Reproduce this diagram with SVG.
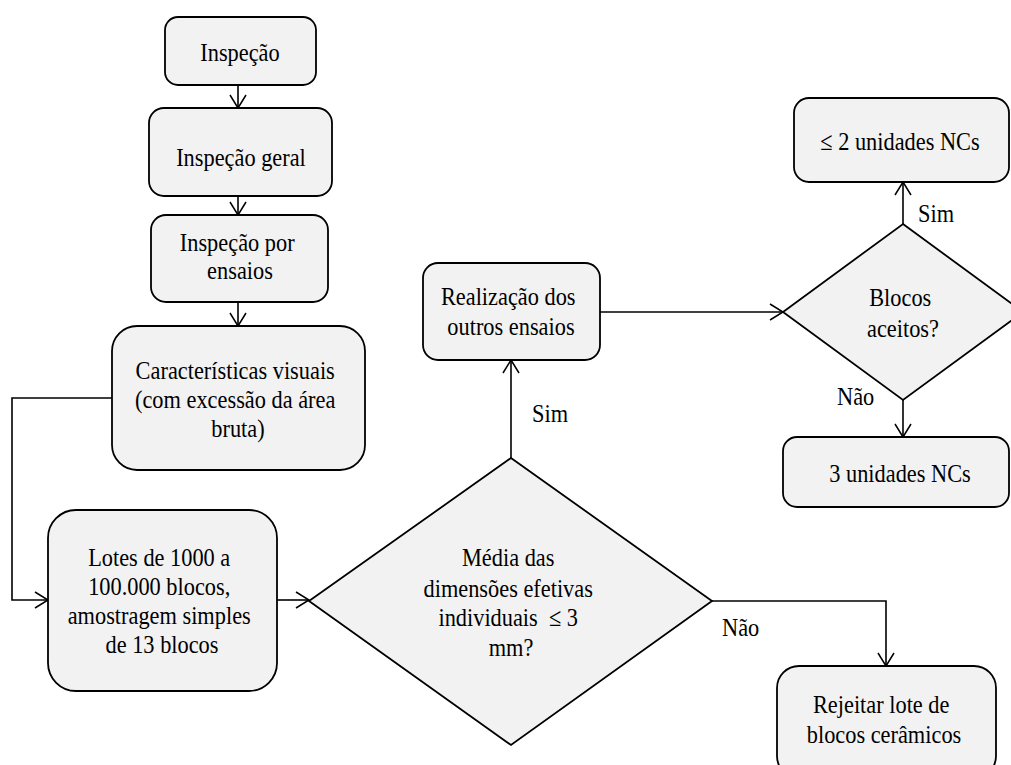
<svg xmlns="http://www.w3.org/2000/svg" width="1011" height="765" viewBox="0 0 1011 765">
  <defs>
    <marker id="arrow" markerUnits="userSpaceOnUse" markerWidth="20" markerHeight="20" viewBox="-16 -10 20 20" refX="0" refY="0" orient="auto">
      <path d="M -13 -8 L 0 0 L -13 8" fill="none" stroke="#000" stroke-width="1.5"/>
    </marker>
    <style>
      .shape { fill: #f2f2f2; stroke: #000; stroke-width: 1.8; }
      .link { fill: none; stroke: #000; stroke-width: 1.6; }
      .txt { font-family: "Liberation Serif", "Times New Roman", serif; font-size: 26px; fill: #000; }
      .c { text-anchor: middle; }
    </style>
  </defs>
  <rect width="1011" height="765" fill="#fff"/>

  <!-- connectors and their labels -->
  <g id="connectors">
    <line class="link" x1="238" y1="85" x2="238" y2="108" marker-end="url(#arrow)"/>
    <line class="link" x1="238" y1="196" x2="238" y2="215" marker-end="url(#arrow)"/>
    <line class="link" x1="238" y1="302" x2="238" y2="326" marker-end="url(#arrow)"/>
    <polyline class="link" points="112,398 12,398 12,600 48,600" marker-end="url(#arrow)"/>
    <line class="link" x1="277" y1="600" x2="309" y2="600" marker-end="url(#arrow)"/>
    <line class="link" x1="511" y1="458" x2="511" y2="360" marker-end="url(#arrow)"/>
    <line class="link" x1="600" y1="312" x2="783" y2="312" marker-end="url(#arrow)"/>
    <line class="link" x1="903" y1="224" x2="903" y2="182" marker-end="url(#arrow)"/>
    <line class="link" x1="903" y1="400" x2="903" y2="437" marker-end="url(#arrow)"/>
    <polyline class="link" points="712,601 886,601 886,666" marker-end="url(#arrow)"/>
    <text class="txt" transform="translate(532 422) scale(0.86 1)">Sim</text>
    <text class="txt" transform="translate(918 222) scale(0.86 1)">Sim</text>
    <text class="txt" transform="translate(837 405) scale(0.86 1)">Não</text>
    <text class="txt" transform="translate(722 636) scale(0.86 1)">Não</text>
  </g>

  <g id="inspecao">
    <rect class="shape" x="165" y="17" width="151" height="68" rx="13"/>
    <text class="txt c" transform="translate(240 61) scale(0.86 1)">Inspeção</text>
  </g>

  <g id="inspecao-geral">
    <rect class="shape" x="149" y="108" width="183" height="88" rx="15"/>
    <text class="txt c" transform="translate(241 166) scale(0.86 1)">Inspeção geral</text>
  </g>

  <g id="inspecao-ensaios">
    <rect class="shape" x="151" y="215" width="177" height="87" rx="15"/>
    <text class="txt c" transform="translate(240 0) scale(0.86 1)">
      <tspan x="0" y="251">Inspeção por</tspan>
      <tspan x="0" y="279">ensaios</tspan>
    </text>
  </g>

  <g id="caracteristicas">
    <rect class="shape" x="112" y="326" width="253" height="144" rx="25"/>
    <text class="txt c" transform="translate(238 0) scale(0.86 1)">
      <tspan x="0" y="379">Características visuais</tspan>
      <tspan x="0" y="408">(com excessão da área</tspan>
      <tspan x="0" y="437">bruta)</tspan>
    </text>
  </g>

  <g id="lotes">
    <rect class="shape" x="48" y="510" width="229" height="181" rx="28"/>
    <text class="txt c" transform="translate(162 0) scale(0.86 1)">
      <tspan x="0" y="566">Lotes de 1000 a</tspan>
      <tspan x="0" y="595">100.000 blocos,</tspan>
      <tspan x="0" y="624">amostragem simples</tspan>
      <tspan x="0" y="653">de 13 blocos</tspan>
    </text>
  </g>

  <g id="media-dimensoes">
    <polygon class="shape" points="511,458 712,601 511,745 309,601"/>
    <text class="txt c" transform="translate(511 0) scale(0.86 1)">
      <tspan x="0" y="566">Média das</tspan>
      <tspan x="0" y="597">dimensões efetivas</tspan>
      <tspan x="0" y="626">individuais &#160;≤ 3</tspan>
      <tspan x="0" y="656">mm?</tspan>
    </text>
  </g>

  <g id="outros-ensaios">
    <rect class="shape" x="423" y="263" width="177" height="97" rx="15"/>
    <text class="txt c" transform="translate(511 0) scale(0.86 1)">
      <tspan x="0" y="305">Realização dos</tspan>
      <tspan x="0" y="335">outros ensaios</tspan>
    </text>
  </g>

  <g id="blocos-aceitos">
    <polygon class="shape" points="903,224 1023,312 903,400 783,312"/>
    <text class="txt c" transform="translate(903 0) scale(0.86 1)">
      <tspan x="0" y="306">Blocos</tspan>
      <tspan x="0" y="337">aceitos?</tspan>
    </text>
  </g>

  <g id="ate-2-ncs">
    <rect class="shape" x="794" y="98" width="215" height="84" rx="15"/>
    <text class="txt c" transform="translate(900 150) scale(0.86 1)">≤ 2 unidades NCs</text>
  </g>

  <g id="tres-ncs">
    <rect class="shape" x="783" y="437" width="226" height="70" rx="14"/>
    <text class="txt c" transform="translate(900 482) scale(0.86 1)">3 unidades NCs</text>
  </g>

  <g id="rejeitar">
    <rect class="shape" x="777" y="666" width="219" height="112" rx="22"/>
    <text class="txt c" transform="translate(884 0) scale(0.86 1)">
      <tspan x="0" y="713">Rejeitar lote de</tspan>
      <tspan x="0" y="743">blocos cerâmicos</tspan>
    </text>
  </g>
</svg>
